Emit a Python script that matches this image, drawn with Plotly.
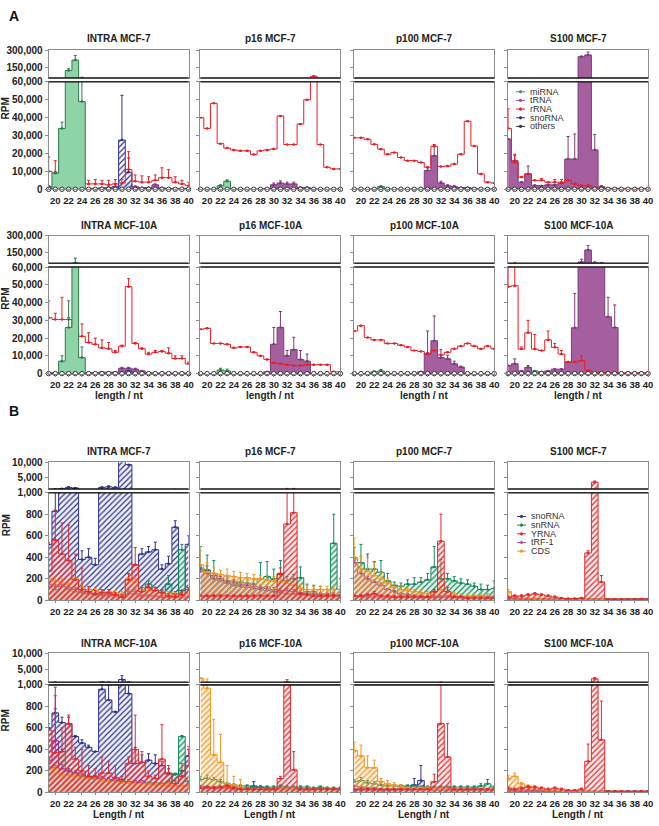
import plotly.graph_objects as go

# ---------------- data ----------------
lengths = [19, 20, 21, 22, 23, 24, 25, 26, 27, 28, 29, 30, 31, 32, 33, 34, 35, 36, 37, 38, 39, 40]
length_ticks = [20, 22, 24, 26, 28, 30, 32, 34, 36, 38, 40]

rpm_ticks_A_low = [0, 10000, 20000, 30000, 40000, 50000, 60000]
rpm_ticks_A_up = [150000, 300000]
rpm_ticks_B_low = [0, 200, 400, 600, 800, 1000]
rpm_ticks_B_up = [5000, 10000]
axis_A = [0, 60000, 300000]
axis_B = [0, 1000, 10000]

panel_titles = ["INTRA MCF-7", "p16 MCF-7", "p100 MCF-7", "S100 MCF-7",
                "INTRA MCF-10A", "p16 MCF-10A", "p100 MCF-10A", "S100 MCF-10A",
                "INTRA MCF-7", "p16 MCF-7", "p100 MCF-7", "S100 MCF-7",
                "INTRA MCF-10A", "p16 MCF-10A", "p100 MCF-10A", "S100 MCF-10A"]

series_A = ["miRNA", "tRNA", "rRNA", "snoRNA", "others"]
series_B = ["snoRNA", "snRNA", "YRNA", "tRF-1", "CDS"]

zero22 = [0, 0, 0, 0, 0, 0, 0, 0, 0, 0, 0, 0, 0, 0, 0, 0, 0, 0, 0, 0, 0, 0]

# ---- Section A (RPM) ----
A1_miRNA      = [500, 9000, 34000, 125000, 215000, 49000, 0, 0, 0, 0, 0, 0, 0, 0, 0, 0, 0, 0, 0, 0, 0, 0]
A1_miRNA_err  = [0, 1000, 3500, 15000, 40000, 17000, 0, 0, 0, 0, 0, 0, 0, 0, 0, 0, 0, 0, 0, 0, 0, 0]
A1_tRNA       = [1500, 1200, 1000, 1000, 1000, 800, 500, 500, 800, 1000, 1500, 2500, 3000, 1500, 1000, 1000, 2500, 800, 500, 500, 500, 500]
A1_tRNA_err   = [500, 300, 0, 0, 0, 0, 0, 0, 0, 300, 300, 500, 800, 300, 0, 0, 500, 0, 0, 0, 0, 0]
A1_rRNA       = [10000, 9000, 6000, 5000, 5000, 4000, 3000, 3000, 3000, 2500, 3000, 3500, 11000, 4500, 4000, 4000, 5000, 6500, 6500, 4000, 3000, 2000]
A1_rRNA_err   = [8000, 7000, 0, 0, 0, 0, 2000, 2500, 2000, 2500, 2500, 2000, 10000, 3500, 3500, 3000, 3000, 5500, 4500, 3000, 2000, 2000]
A1_snoRNA     = [0, 0, 0, 1000, 0, 0, 0, 0, 0, 0, 0, 27500, 9500, 0, 0, 0, 0, 0, 0, 0, 0, 0]
A1_snoRNA_err = [0, 0, 0, 0, 0, 0, 0, 0, 0, 0, 0, 25000, 8000, 0, 0, 0, 0, 0, 0, 0, 0, 0]

A2_miRNA      = [0, 0, 0, 2000, 4500, 0, 0, 0, 0, 0, 0, 0, 0, 0, 0, 0, 0, 0, 0, 0, 0, 0]
A2_miRNA_err  = [0, 0, 0, 500, 800, 0, 0, 0, 0, 0, 0, 0, 0, 0, 0, 0, 0, 0, 0, 0, 0, 0]
A2_tRNA       = [0, 0, 0, 0, 0, 0, 0, 0, 0, 0, 500, 2500, 3500, 3000, 3000, 1000, 1000, 0, 0, 0, 0, 0]
A2_tRNA_err   = [0, 0, 0, 0, 0, 0, 0, 0, 0, 0, 0, 1000, 1200, 1000, 1000, 300, 300, 0, 0, 0, 0, 0]
A2_rRNA       = [40000, 34000, 48000, 25500, 23000, 22000, 21500, 21500, 19500, 21500, 22000, 22500, 41000, 25000, 25000, 36500, 50000, 75000, 25000, 12300, 11400, 11400]

A3_miRNA      = [0, 0, 0, 0, 1500, 0, 0, 0, 0, 0, 0, 0, 0, 0, 0, 0, 0, 0, 0, 0, 0, 0]
A3_miRNA_err  = [0, 0, 0, 0, 500, 0, 0, 0, 0, 0, 0, 0, 0, 0, 0, 0, 0, 0, 0, 0, 0, 0]
A3_tRNA       = [0, 0, 0, 0, 0, 0, 0, 0, 0, 0, 0, 10500, 18700, 3500, 2000, 1500, 1000, 1000, 500, 0, 0, 0]
A3_tRNA_err   = [0, 0, 0, 0, 0, 0, 0, 0, 0, 0, 0, 1500, 6000, 1000, 500, 500, 0, 0, 0, 0, 0, 0]
A3_rRNA       = [28800, 28800, 27900, 25100, 22400, 19600, 20500, 17800, 16000, 16000, 15000, 12300, 24000, 12700, 13000, 14100, 19600, 38000, 24200, 8600, 4000, 3500]
A3_rRNA_err   = [0, 0, 0, 0, 0, 0, 0, 0, 0, 0, 0, 0, 1000, 0, 0, 0, 0, 0, 0, 0, 0, 0]

A4_miRNA      = [0, 0, 0, 0, 1000, 0, 0, 0, 0, 0, 0, 0, 0, 0, 0, 0, 0, 0, 0, 0, 0, 0]
A4_tRNA       = [28000, 16000, 4000, 8600, 2200, 2000, 2500, 2500, 3500, 16900, 16900, 245000, 260000, 22000, 1500, 500, 300, 200, 200, 100, 100, 100]
A4_tRNA_err   = [0, 3000, 0, 4400, 0, 0, 0, 0, 0, 12600, 14000, 5000, 25000, 8600, 500, 0, 0, 0, 0, 0, 0, 0]
A4_rRNA       = [34000, 15000, 6800, 8600, 5000, 5000, 4000, 4000, 4000, 5000, 3000, 2000, 2000, 1000, 500, 500, 500, 500, 500, 500, 500, 500]
A4_rRNA_err   = [11000, 4600, 0, 0, 0, 1000, 0, 1500, 1500, 0, 500, 500, 500, 0, 0, 0, 0, 0, 0, 0, 0, 0]

A5_miRNA      = [0, 0, 7000, 26000, 62000, 9000, 0, 0, 0, 0, 0, 0, 0, 0, 0, 0, 0, 0, 0, 0, 0, 0]
A5_miRNA_err  = [0, 0, 3000, 15000, 42000, 6000, 0, 0, 0, 0, 0, 0, 0, 0, 0, 0, 0, 0, 0, 0, 0, 0]
A5_tRNA       = [500, 500, 500, 500, 2000, 500, 500, 500, 800, 800, 800, 3000, 3000, 2500, 1500, 500, 300, 300, 300, 300, 300, 300]
A5_tRNA_err   = [0, 0, 0, 0, 0, 0, 0, 0, 0, 0, 0, 500, 500, 500, 0, 0, 0, 0, 0, 0, 0, 0]
A5_rRNA       = [31500, 30500, 30500, 30500, 23000, 21000, 17500, 16500, 14500, 14000, 12000, 15500, 49000, 17000, 14000, 11000, 12000, 12500, 11500, 8500, 8500, 5500]
A5_rRNA_err   = [9500, 3500, 12500, 1000, 6000, 7000, 5500, 3500, 4500, 3500, 1000, 500, 4500, 500, 500, 1000, 1000, 500, 3000, 1500, 1500, 1000]
A5_snoRNA     = [0, 0, 0, 0, 0, 0, 0, 0, 0, 0, 0, 0, 1500, 0, 0, 0, 0, 0, 0, 0, 0, 0]

A6_miRNA      = [0, 0, 0, 2000, 1500, 0, 0, 0, 0, 0, 0, 0, 0, 0, 0, 0, 0, 0, 0, 0, 0, 0]
A6_miRNA_err  = [0, 0, 0, 1000, 1000, 0, 0, 0, 0, 0, 0, 0, 0, 0, 0, 0, 0, 0, 0, 0, 0, 0]
A6_tRNA       = [0, 0, 0, 0, 0, 0, 0, 0, 0, 0, 1000, 16500, 26000, 10000, 13500, 8000, 7000, 0, 0, 0, 0, 0]
A6_tRNA_err   = [0, 0, 0, 0, 0, 0, 0, 0, 0, 0, 0, 9500, 9000, 3000, 7000, 5000, 4000, 0, 0, 0, 0, 0]
A6_rRNA       = [25000, 25500, 17000, 17000, 16500, 14500, 15000, 15000, 12000, 10000, 8000, 6000, 5500, 5000, 4500, 4500, 5000, 5000, 5000, 5000, 1000, 1000]

A7_miRNA      = [0, 0, 0, 1000, 1500, 0, 0, 0, 0, 0, 0, 0, 0, 0, 0, 0, 0, 0, 0, 0, 0, 0]
A7_miRNA_err  = [0, 0, 0, 500, 800, 0, 0, 0, 0, 0, 0, 0, 0, 0, 0, 0, 0, 0, 0, 0, 0, 0]
A7_tRNA       = [0, 0, 0, 0, 0, 0, 0, 0, 0, 0, 1000, 11500, 18500, 9000, 8300, 5500, 3700, 0, 0, 0, 0, 0]
A7_tRNA_err   = [0, 0, 0, 0, 0, 0, 0, 0, 0, 0, 0, 12500, 14000, 4500, 2000, 1500, 500, 0, 0, 0, 0, 0]
A7_rRNA       = [24000, 27000, 20300, 19000, 19000, 17000, 17000, 16000, 15000, 13000, 12500, 11000, 13000, 10500, 12000, 14000, 15500, 17000, 15500, 14000, 15500, 14000]

A8_miRNA      = [0, 0, 0, 0, 1500, 0, 0, 0, 0, 0, 0, 0, 0, 0, 0, 0, 0, 0, 0, 0, 0, 0]
A8_tRNA       = [4500, 5500, 1500, 3500, 1000, 1000, 1500, 2500, 2500, 6500, 25800, 70000, 175000, 62000, 61000, 32000, 26000, 0, 0, 0, 0, 0]
A8_tRNA_err   = [0, 2800, 0, 1000, 0, 0, 0, 0, 0, 0, 19400, 25000, 38000, 10000, 4000, 11000, 12700, 0, 0, 0, 0, 0]
A8_rRNA       = [49000, 49500, 13800, 23000, 13800, 13000, 19000, 14800, 11000, 6500, 6500, 7300, 1800, 500, 500, 500, 500, 500, 500, 500, 500, 500]
A8_rRNA_err   = [11000, 15000, 1200, 7000, 8200, 0, 5000, 2200, 2000, 0, 0, 2700, 0, 0, 0, 0, 0, 0, 0, 0, 0, 0]

# ---- Section B (RPM) ----
B1_snoRNA     = [520, 830, 1050, 1500, 1300, 380, 400, 330, 1500, 1700, 1500, 12000, 9200, 330, 430, 450, 470, 290, 340, 680, 90, 520]
B1_snoRNA_err = [0, 200, 50, 200, 0, 80, 80, 60, 150, 300, 100, 0, 0, 0, 50, 50, 70, 40, 70, 60, 0, 80]
B1_snRNA      = [120, 100, 130, 100, 80, 70, 60, 60, 70, 60, 50, 50, 80, 80, 100, 150, 100, 70, 150, 60, 470, 100]
B1_snRNA_err  = [20, 20, 20, 20, 20, 20, 10, 10, 10, 10, 10, 10, 20, 20, 20, 30, 20, 20, 80, 20, 50, 20]
B1_YRNA       = [270, 560, 430, 370, 190, 100, 80, 60, 70, 70, 50, 30, 190, 330, 80, 120, 90, 70, 40, 30, 50, 100]
B1_YRNA_err   = [270, 280, 290, 330, 240, 200, 50, 30, 30, 30, 20, 20, 60, 160, 40, 30, 30, 30, 20, 20, 20, 20]
B1_tRF1       = [150, 130, 130, 120, 100, 80, 60, 50, 50, 40, 40, 30, 60, 60, 40, 40, 40, 30, 30, 30, 30, 30]
B1_tRF1_err   = [20, 20, 20, 20, 20, 20, 10, 10, 10, 10, 10, 10, 10, 10, 10, 10, 10, 10, 10, 10, 10, 10]
B1_CDS        = [200, 180, 160, 150, 200, 120, 100, 90, 80, 80, 70, 60, 200, 170, 100, 90, 100, 80, 60, 50, 40, 60]
B1_CDS_err    = [80, 40, 40, 40, 100, 30, 20, 20, 20, 20, 20, 20, 40, 40, 20, 20, 20, 20, 20, 20, 20, 20]

B2_snoRNA     = [290, 280, 200, 180, 160, 140, 130, 120, 110, 100, 90, 80, 70, 60, 60, 50, 50, 50, 40, 40, 40, 40]
B2_snoRNA_err = [20, 40, 20, 20, 10, 10, 10, 10, 10, 10, 10, 10, 10, 10, 10, 10, 10, 10, 10, 10, 10, 10]
B2_snRNA      = [300, 280, 250, 200, 180, 150, 170, 160, 150, 200, 220, 200, 250, 180, 200, 210, 80, 80, 60, 60, 530, 100]
B2_snRNA_err  = [200, 140, 120, 40, 40, 40, 40, 40, 40, 150, 140, 90, 120, 40, 40, 100, 70, 60, 70, 40, 270, 100]
B2_YRNA       = [40, 40, 40, 40, 40, 40, 40, 40, 40, 40, 40, 40, 240, 710, 815, 60, 50, 40, 40, 40, 40, 40]
B2_YRNA_err   = [10, 10, 10, 10, 10, 10, 10, 10, 10, 10, 10, 10, 60, 450, 350, 10, 10, 10, 10, 10, 10, 10]
B2_tRF1       = [270, 250, 230, 200, 180, 170, 150, 140, 130, 120, 110, 100, 90, 90, 80, 70, 60, 60, 50, 50, 50, 50]
B2_tRF1_err   = [20, 20, 20, 20, 20, 20, 20, 20, 20, 20, 20, 20, 20, 20, 20, 20, 20, 20, 20, 20, 20, 20]
B2_CDS        = [330, 260, 250, 240, 230, 220, 210, 210, 200, 200, 190, 180, 170, 160, 140, 110, 100, 100, 100, 100, 100, 100]
B2_CDS_err    = [130, 90, 50, 40, 60, 50, 50, 40, 40, 30, 40, 40, 30, 30, 40, 40, 40, 30, 30, 30, 30, 30]

B3_snoRNA     = [40, 40, 30, 30, 30, 30, 30, 30, 30, 30, 30, 30, 30, 30, 30, 30, 30, 30, 30, 30, 30, 30]
B3_snoRNA_err = [10, 10, 10, 10, 10, 10, 10, 10, 10, 10, 10, 10, 10, 10, 10, 10, 10, 10, 10, 10, 10, 10]
B3_snRNA      = [390, 350, 290, 290, 260, 180, 140, 130, 150, 150, 170, 190, 310, 200, 200, 180, 160, 150, 130, 100, 100, 110]
B3_snRNA_err  = [100, 170, 140, 70, 110, 70, 30, 30, 40, 60, 40, 60, 190, 180, 50, 40, 40, 40, 30, 50, 40, 70]
B3_YRNA       = [40, 40, 50, 60, 40, 40, 30, 30, 30, 30, 30, 30, 80, 550, 80, 30, 30, 20, 20, 20, 20, 20]
B3_YRNA_err   = [10, 10, 10, 20, 10, 10, 10, 10, 10, 10, 10, 10, 20, 250, 40, 10, 10, 10, 10, 10, 10, 10]
B3_tRF1       = [350, 250, 200, 170, 140, 100, 80, 60, 50, 40, 40, 30, 30, 30, 30, 30, 30, 30, 30, 30, 30, 30]
B3_tRF1_err   = [20, 20, 20, 20, 20, 10, 10, 10, 10, 10, 10, 10, 10, 10, 10, 10, 10, 10, 10, 10, 10, 10]
B3_CDS        = [400, 290, 270, 230, 200, 160, 120, 100, 90, 80, 70, 60, 70, 100, 80, 50, 40, 40, 40, 40, 40, 40]
B3_CDS_err    = [180, 120, 130, 120, 60, 40, 30, 30, 20, 20, 20, 20, 20, 30, 20, 20, 20, 20, 20, 20, 20, 20]

B4_snoRNA     = [20, 15, 10, 10, 10, 10, 10, 10, 10, 10, 10, 10, 10, 10, 10, 10, 10, 10, 10, 10, 10, 10]
B4_snRNA      = [10, 10, 10, 10, 10, 10, 10, 10, 10, 10, 10, 10, 10, 10, 10, 10, 10, 10, 10, 10, 15, 10]
B4_YRNA       = [30, 40, 40, 50, 60, 50, 40, 30, 20, 15, 15, 20, 440, 3250, 170, 10, 10, 10, 10, 10, 10, 10]
B4_YRNA_err   = [10, 10, 10, 10, 10, 10, 10, 10, 5, 5, 5, 5, 20, 400, 60, 5, 5, 5, 5, 5, 5, 5]
B4_tRF1       = [20, 20, 15, 10, 10, 10, 10, 10, 10, 10, 10, 10, 10, 10, 10, 10, 10, 10, 10, 10, 10, 10]
B4_CDS        = [80, 30, 20, 20, 15, 10, 10, 10, 10, 10, 10, 10, 10, 10, 10, 10, 10, 10, 10, 10, 10, 10]
B4_CDS_err    = [20, 10, 5, 5, 5, 5, 5, 5, 5, 5, 5, 5, 5, 5, 5, 5, 5, 5, 5, 5, 5, 5]

B5_snoRNA     = [600, 740, 650, 640, 520, 460, 420, 380, 960, 860, 750, 1800, 920, 270, 280, 300, 270, 250, 180, 170, 200, 340]
B5_snoRNA_err = [0, 40, 50, 60, 10, 30, 20, 0, 60, 140, 0, 1200, 180, 150, 70, 60, 80, 40, 40, 0, 0, 60]
B5_snRNA      = [220, 230, 380, 200, 180, 150, 140, 130, 130, 120, 120, 110, 100, 100, 100, 90, 90, 80, 100, 170, 520, 100]
B5_snRNA_err  = [20, 20, 20, 20, 10, 10, 10, 10, 10, 10, 10, 10, 10, 10, 10, 10, 10, 10, 10, 10, 10, 10]
B5_YRNA       = [580, 370, 380, 640, 310, 200, 150, 150, 180, 180, 140, 120, 270, 400, 280, 150, 130, 310, 170, 80, 150, 250]
B5_YRNA_err   = [60, 530, 220, 80, 110, 200, 100, 70, 150, 110, 110, 30, 60, 320, 100, 50, 30, 320, 80, 30, 120, 180]
B5_tRF1       = [300, 480, 220, 200, 180, 160, 150, 140, 130, 120, 110, 100, 100, 90, 90, 80, 70, 70, 60, 60, 60, 60]
B5_tRF1_err   = [20, 500, 40, 20, 20, 20, 20, 20, 20, 20, 20, 20, 20, 20, 20, 20, 20, 20, 20, 20, 20, 20]
B5_CDS        = [220, 220, 160, 160, 150, 140, 130, 120, 110, 100, 100, 90, 90, 80, 80, 80, 70, 70, 70, 60, 60, 60]
B5_CDS_err    = [30, 20, 20, 20, 20, 20, 20, 20, 20, 20, 20, 20, 20, 20, 20, 20, 20, 20, 20, 20, 20, 20]

B6_snoRNA     = [40, 40, 40, 40, 50, 50, 40, 40, 60, 50, 40, 30, 40, 30, 30, 30, 30, 30, 30, 30, 30, 30]
B6_snoRNA_err = [10, 10, 10, 10, 10, 10, 10, 10, 40, 10, 10, 10, 10, 10, 10, 10, 10, 10, 10, 10, 10, 10]
B6_snRNA      = [120, 130, 120, 100, 80, 70, 60, 60, 50, 50, 50, 50, 60, 50, 50, 50, 50, 40, 50, 40, 40, 40]
B6_snRNA_err  = [30, 30, 20, 20, 10, 10, 10, 10, 10, 10, 10, 10, 10, 10, 10, 10, 10, 10, 10, 10, 10, 10]
B6_YRNA       = [40, 50, 40, 50, 60, 40, 30, 30, 30, 30, 30, 30, 130, 1050, 210, 30, 30, 30, 30, 30, 30, 30]
B6_YRNA_err   = [10, 10, 10, 10, 10, 10, 10, 10, 10, 10, 10, 10, 20, 700, 170, 10, 10, 10, 10, 10, 10, 10]
B6_tRF1       = [60, 50, 50, 40, 40, 30, 30, 30, 30, 30, 30, 30, 30, 30, 30, 30, 30, 30, 30, 30, 30, 30]
B6_CDS        = [2200, 970, 350, 280, 80, 70, 50, 30, 30, 30, 30, 30, 30, 30, 30, 30, 30, 30, 30, 30, 30, 30]
B6_CDS_err    = [200, 1000, 330, 260, 170, 80, 70, 20, 10, 10, 10, 10, 10, 10, 10, 10, 10, 10, 10, 10, 10, 10]

B7_snoRNA     = [20, 20, 20, 20, 20, 20, 20, 20, 20, 70, 110, 40, 20, 20, 20, 20, 20, 20, 20, 20, 20, 20]
B7_snoRNA_err = [0, 0, 0, 0, 0, 0, 0, 0, 0, 60, 140, 10, 0, 0, 0, 0, 0, 0, 0, 0, 0, 0]
B7_snRNA      = [100, 110, 90, 80, 70, 60, 60, 60, 60, 60, 50, 50, 50, 50, 50, 50, 50, 50, 50, 60, 80, 50]
B7_snRNA_err  = [20, 30, 20, 20, 20, 10, 10, 10, 10, 10, 10, 10, 10, 10, 10, 10, 10, 10, 10, 20, 40, 10]
B7_YRNA       = [30, 30, 30, 30, 30, 30, 30, 30, 30, 30, 30, 30, 100, 640, 330, 30, 30, 30, 30, 30, 30, 30]
B7_YRNA_err   = [0, 0, 0, 0, 0, 0, 0, 0, 0, 0, 0, 0, 70, 400, 310, 0, 0, 0, 0, 0, 0, 0]
B7_tRF1       = [60, 50, 40, 40, 30, 30, 30, 30, 30, 30, 30, 30, 30, 30, 30, 30, 30, 30, 30, 30, 30, 30]
B7_CDS        = [390, 340, 230, 230, 100, 80, 70, 50, 40, 40, 40, 40, 30, 30, 30, 30, 30, 30, 30, 30, 30, 30]
B7_CDS_err    = [80, 100, 110, 70, 30, 30, 20, 20, 10, 10, 10, 10, 10, 10, 10, 10, 10, 10, 10, 10, 10, 10]

B8_snoRNA     = [10, 10, 10, 10, 10, 10, 10, 10, 10, 10, 10, 10, 10, 10, 10, 10, 10, 10, 10, 10, 10, 10]
B8_snRNA      = [20, 20, 20, 20, 20, 10, 10, 10, 10, 10, 10, 10, 10, 10, 10, 10, 10, 10, 10, 10, 10, 10]
B8_YRNA       = [40, 30, 40, 50, 50, 40, 30, 40, 30, 20, 20, 30, 290, 2000, 490, 10, 10, 10, 10, 10, 10, 10]
B8_YRNA_err   = [10, 10, 10, 10, 10, 10, 10, 10, 10, 5, 5, 10, 160, 400, 360, 5, 5, 5, 5, 5, 5, 5]
B8_tRF1       = [30, 20, 20, 20, 20, 10, 10, 10, 10, 10, 10, 10, 10, 10, 10, 10, 10, 10, 10, 10, 10, 10]
B8_CDS        = [130, 150, 80, 60, 40, 30, 20, 20, 10, 10, 10, 10, 10, 10, 10, 10, 10, 10, 10, 10, 10, 10]
B8_CDS_err    = [30, 30, 10, 10, 10, 10, 10, 10, 5, 5, 5, 5, 5, 5, 5, 5, 5, 5, 5, 5, 5, 5]

# ---- assemble panels from the named arrays ----
panels = [
    {"miRNA": (A1_miRNA, A1_miRNA_err), "tRNA": (A1_tRNA, A1_tRNA_err), "rRNA": (A1_rRNA, A1_rRNA_err), "snoRNA": (A1_snoRNA, A1_snoRNA_err), "others": (zero22, zero22)},
    {"miRNA": (A2_miRNA, A2_miRNA_err), "tRNA": (A2_tRNA, A2_tRNA_err), "rRNA": (A2_rRNA, zero22), "snoRNA": (zero22, zero22), "others": (zero22, zero22)},
    {"miRNA": (A3_miRNA, A3_miRNA_err), "tRNA": (A3_tRNA, A3_tRNA_err), "rRNA": (A3_rRNA, A3_rRNA_err), "snoRNA": (zero22, zero22), "others": (zero22, zero22)},
    {"miRNA": (A4_miRNA, zero22), "tRNA": (A4_tRNA, A4_tRNA_err), "rRNA": (A4_rRNA, A4_rRNA_err), "snoRNA": (zero22, zero22), "others": (zero22, zero22)},
    {"miRNA": (A5_miRNA, A5_miRNA_err), "tRNA": (A5_tRNA, A5_tRNA_err), "rRNA": (A5_rRNA, A5_rRNA_err), "snoRNA": (A5_snoRNA, zero22), "others": (zero22, zero22)},
    {"miRNA": (A6_miRNA, A6_miRNA_err), "tRNA": (A6_tRNA, A6_tRNA_err), "rRNA": (A6_rRNA, zero22), "snoRNA": (zero22, zero22), "others": (zero22, zero22)},
    {"miRNA": (A7_miRNA, A7_miRNA_err), "tRNA": (A7_tRNA, A7_tRNA_err), "rRNA": (A7_rRNA, zero22), "snoRNA": (zero22, zero22), "others": (zero22, zero22)},
    {"miRNA": (A8_miRNA, zero22), "tRNA": (A8_tRNA, A8_tRNA_err), "rRNA": (A8_rRNA, A8_rRNA_err), "snoRNA": (zero22, zero22), "others": (zero22, zero22)},
    {"snoRNA": (B1_snoRNA, B1_snoRNA_err), "snRNA": (B1_snRNA, B1_snRNA_err), "YRNA": (B1_YRNA, B1_YRNA_err), "tRF-1": (B1_tRF1, B1_tRF1_err), "CDS": (B1_CDS, B1_CDS_err)},
    {"snoRNA": (B2_snoRNA, B2_snoRNA_err), "snRNA": (B2_snRNA, B2_snRNA_err), "YRNA": (B2_YRNA, B2_YRNA_err), "tRF-1": (B2_tRF1, B2_tRF1_err), "CDS": (B2_CDS, B2_CDS_err)},
    {"snoRNA": (B3_snoRNA, B3_snoRNA_err), "snRNA": (B3_snRNA, B3_snRNA_err), "YRNA": (B3_YRNA, B3_YRNA_err), "tRF-1": (B3_tRF1, B3_tRF1_err), "CDS": (B3_CDS, B3_CDS_err)},
    {"snoRNA": (B4_snoRNA, zero22), "snRNA": (B4_snRNA, zero22), "YRNA": (B4_YRNA, B4_YRNA_err), "tRF-1": (B4_tRF1, zero22), "CDS": (B4_CDS, B4_CDS_err)},
    {"snoRNA": (B5_snoRNA, B5_snoRNA_err), "snRNA": (B5_snRNA, B5_snRNA_err), "YRNA": (B5_YRNA, B5_YRNA_err), "tRF-1": (B5_tRF1, B5_tRF1_err), "CDS": (B5_CDS, B5_CDS_err)},
    {"snoRNA": (B6_snoRNA, B6_snoRNA_err), "snRNA": (B6_snRNA, B6_snRNA_err), "YRNA": (B6_YRNA, B6_YRNA_err), "tRF-1": (B6_tRF1, zero22), "CDS": (B6_CDS, B6_CDS_err)},
    {"snoRNA": (B7_snoRNA, B7_snoRNA_err), "snRNA": (B7_snRNA, B7_snRNA_err), "YRNA": (B7_YRNA, B7_YRNA_err), "tRF-1": (B7_tRF1, zero22), "CDS": (B7_CDS, B7_CDS_err)},
    {"snoRNA": (B8_snoRNA, zero22), "snRNA": (B8_snRNA, zero22), "YRNA": (B8_YRNA, B8_YRNA_err), "tRF-1": (B8_tRF1, zero22), "CDS": (B8_CDS, B8_CDS_err)},
]

for p in panels:
    for k, (v, e) in p.items():
        assert len(v) == len(lengths) and len(e) == len(lengths), k

# ---------------- styles ----------------
style_A = {
    "miRNA":  dict(line="#2d7a4b", fill="#8fd3a8", pattern=None, leg="#3b9a63"),
    "tRNA":   dict(line="#7c3b78", fill="#a55f9f", pattern=None, leg="#9b4f96"),
    "rRNA":   dict(line="#ec1c24", fill=None, pattern=None, leg="#ec1c24"),
    "snoRNA": dict(line="#2e3192", fill=None, pattern="#2e3192", bg="rgba(255,255,255,0.75)", leg="#2e3192"),
    "others": dict(line="#333333", fill=None, pattern=None, leg="#333333"),
}
style_B = {
    "snoRNA": dict(line="#2e3192", pattern="#2e3192", bg="rgba(180,185,235,0.18)", leg="#2e3192"),
    "snRNA":  dict(line="#138a59", pattern="#138a59", bg="rgba(120,200,160,0.18)", leg="#138a59"),
    "YRNA":   dict(line="#e8262b", pattern="#e8262b", bg="rgba(250,170,170,0.22)", leg="#e8262b"),
    "tRF-1":  dict(line="#93278f", pattern="#93278f", bg="rgba(200,140,200,0.15)", leg="#b04fb0"),
    "CDS":    dict(line="#f7941d", pattern="#f7941d", bg="rgba(252,200,140,0.22)", leg="#f7941d"),
}
draw_A = ["tRNA", "snoRNA", "rRNA", "miRNA", "others"]
draw_B = ["snoRNA", "snRNA", "tRF-1", "CDS", "YRNA"]

# ---------------- layout geometry (page pixels) ----------------
W, H = 659, 826
def fx(p): return p / W
def fy(p): return 1 - p / H

col_px = [(49, 190), (202, 343), (357, 498), (512, 653)]
row_px = [((45, 73), (77, 186)), ((233, 261), (265, 373)),
          ((463, 490), (494, 603)), ((657, 686), (689, 798))]
title_y = [33, 223, 452, 647]
rpm_y = [104, 297, 527, 725]
frame = "#8c8c8c"
bold10 = dict(family="Liberation Sans, Arial", size=10, color="#222222", weight="bold")
boldtick = dict(family="Liberation Sans, Arial", size=9.5, color="#222222", weight="bold")

fig = go.Figure()
layout = {}
shapes = []
annotations = []

def sid(n):
    return "" if n == 1 else str(n)

for i in range(16):
    sec = i // 8
    r = i // 4
    c = i % 4
    nl, nu = 2 * i + 1, 2 * i + 2
    (ut, ub), (lt, lb) = row_px[r]
    xl, xr = col_px[c]
    ax = axis_A if sec == 0 else axis_B
    low_ticks = rpm_ticks_A_low if sec == 0 else rpm_ticks_B_low
    up_ticks = rpm_ticks_A_up if sec == 0 else rpm_ticks_B_up

    common_x = dict(domain=[fx(xl), fx(xr)], range=[19, 40], showgrid=False, zeroline=False,
                    showline=True, mirror=True, linecolor=frame, linewidth=1)
    common_y = dict(showgrid=False, zeroline=False, showline=True, mirror=True,
                    linecolor=frame, linewidth=1, ticks="outside", ticklen=3, tickcolor=frame,
                    tickformat=",d", tickfont=bold10, showticklabels=(c == 0))
    layout["xaxis" + sid(nl)] = dict(common_x, anchor="y" + sid(nl), tickvals=length_ticks,
                                     ticks="outside", ticklen=2, tickcolor=frame, tickfont=boldtick,
                                     tickangle=0)
    layout["yaxis" + sid(nl)] = dict(common_y, anchor="x" + sid(nl), domain=[fy(lb), fy(lt)],
                                     range=[ax[0], ax[1]], tickvals=low_ticks)
    layout["xaxis" + sid(nu)] = dict(common_x, anchor="y" + sid(nu), showticklabels=False, ticks="")
    layout["yaxis" + sid(nu)] = dict(common_y, anchor="x" + sid(nu), domain=[fy(ub), fy(ut)],
                                     range=[ax[1], ax[2]], tickvals=up_ticks)

    # break lines
    for yy in (ub, lt):
        shapes.append(dict(type="line", xref="paper", yref="paper", x0=fx(xl), x1=fx(xr),
                           y0=fy(yy), y1=fy(yy), line=dict(color="#111111", width=1.3), layer="above"))

    # title
    annotations.append(dict(text=panel_titles[i], x=fx((xl + xr) / 2), y=fy(title_y[r]),
                            xref="paper", yref="paper", showarrow=False, font=bold10,
                            xanchor="center", yanchor="middle"))

    data = panels[i]
    order = draw_A if sec == 0 else draw_B
    styles = style_A if sec == 0 else style_B
    for name in order:
        vals, errs = data[name]
        st = styles[name]
        for n in (nl, nu):
            if name == "others":
                if n == nu:
                    continue
                fig.add_trace(go.Scatter(
                    x=lengths, y=vals, xaxis="x" + sid(n), yaxis="y" + sid(n),
                    mode="lines+markers", line=dict(color=st["line"], width=1, shape="hvh"),
                    marker=dict(symbol="circle", size=4.5, color="white",
                                line=dict(color="#333333", width=1)),
                    cliponaxis=False, showlegend=False, hoverinfo="skip"))
                continue
            kw = dict(x=lengths, y=vals, xaxis="x" + sid(n), yaxis="y" + sid(n),
                      mode="lines+markers",
                      line=dict(color=st["line"], width=1, shape="hvh"),
                      marker=dict(size=2.5, color=st["line"]),
                      error_y=dict(type="data", array=errs, arrayminus=zero22, symmetric=False,
                                   color=st["line"], thickness=1, width=1.5),
                      showlegend=False, hoverinfo="skip")
            if st.get("pattern"):
                kw["fill"] = "tozeroy"
                kw["fillpattern"] = dict(shape="/", fgcolor=st["pattern"], bgcolor=st["bg"],
                                         size=4, solidity=0.3, fillmode="replace")
            elif st.get("fill"):
                kw["fill"] = "tozeroy"
                kw["fillcolor"] = st["fill"]
            fig.add_trace(go.Scatter(**kw))

# y-axis titles and x-axis titles
for r in range(4):
    annotations.append(dict(text="RPM", x=fx(6), y=fy(rpm_y[r]), xref="paper", yref="paper",
                            showarrow=False, textangle=-90, font=bold10,
                            xanchor="center", yanchor="middle"))
for c in range(4):
    xl, xr = col_px[c]
    annotations.append(dict(text="length / nt", x=fx((xl + xr) / 2), y=fy(395), xref="paper",
                            yref="paper", showarrow=False, font=bold10, xanchor="center", yanchor="middle"))
    annotations.append(dict(text="Length / nt", x=fx((xl + xr) / 2), y=fy(820), xref="paper",
                            yref="paper", showarrow=False, font=bold10, xanchor="center", yanchor="middle"))

# section letters
big = dict(family="Liberation Sans, Arial", size=14, color="#111111", weight="bold")
annotations.append(dict(text="A", x=fx(14), y=fy(10), xref="paper", yref="paper", showarrow=False,
                        font=big, xanchor="center", yanchor="middle"))
annotations.append(dict(text="B", x=fx(14), y=fy(411), xref="paper", yref="paper", showarrow=False,
                        font=big, xanchor="center", yanchor="middle"))

# legends (manual, inside S100 MCF-7 panels)
leg_font = dict(family="Liberation Sans, Arial", size=9, color="#333333")
legend_A_y = [87, 95.8, 104.6, 113.4, 122.2]
legend_B_y = [518, 526.8, 535.6, 544.4, 553.2]
for names, styles, ys, x0 in ((series_A, style_A, legend_A_y, 520), (series_B, style_B, legend_B_y, 521)):
    for name, yy in zip(names, ys):
        col = styles[name]["leg"]
        shapes.append(dict(type="line", xref="paper", yref="paper", x0=fx(x0), x1=fx(x0 + 9),
                           y0=fy(yy), y1=fy(yy), line=dict(color=col, width=1)))
        shapes.append(dict(type="circle", xref="paper", yref="paper", x0=fx(x0 + 3.3), x1=fx(x0 + 5.7),
                           y0=fy(yy + 1.2), y1=fy(yy - 1.2), line=dict(color=col, width=1), fillcolor=col))
        annotations.append(dict(text=name, x=fx(x0 + 12), y=fy(yy), xref="paper", yref="paper",
                                showarrow=False, font=leg_font, xanchor="left", yanchor="middle"))

fig.update_layout(layout)
fig.update_layout(width=W, height=H, margin=dict(l=0, r=0, t=0, b=0),
                  paper_bgcolor="white", plot_bgcolor="white", showlegend=False,
                  shapes=shapes, annotations=annotations,
                  font=dict(family="Liberation Sans, Arial", color="#222222"))
# remove the default 8px page margin so the figure sits at the window's top-left corner
fig.write_html("out.html", config={"displayModeBar": False},
               post_script="document.body.style.margin='0';document.body.style.overflow='hidden';")
